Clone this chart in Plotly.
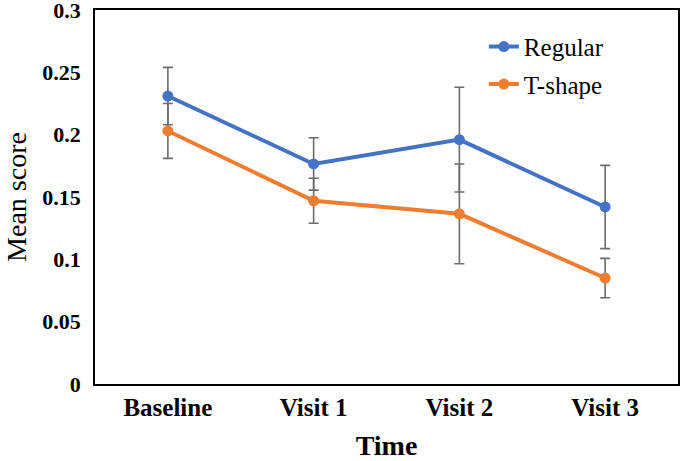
import plotly.graph_objects as go

categories = ["Baseline", "Visit 1", "Visit 2", "Visit 3"]
regular = [0.231, 0.1765, 0.196, 0.142]
regular_err = [0.023, 0.021, 0.042, 0.0334]
tshape = [0.203, 0.147, 0.1365, 0.085]
tshape_err = [0.022, 0.018, 0.040, 0.0158]
y_tickvals = [0, 0.05, 0.1, 0.15, 0.2, 0.25, 0.3]
y_ticktext = ["0", "0.05", "0.1", "0.15", "0.2", "0.25", "0.3"]

FONT = "Liberation Serif, Times New Roman, serif"
ERR_COLOR = "#6b6b6b"

fig = go.Figure()
fig.add_trace(go.Scatter(
    x=categories, y=regular, name="Regular", mode="lines+markers",
    legendgroup="a",
    line=dict(color="#4472C4", width=4),
    marker=dict(color="#4472C4", size=11),
    error_y=dict(type="data", array=regular_err, visible=True,
                 color=ERR_COLOR, thickness=1.6, width=5),
))
fig.add_trace(go.Scatter(
    x=categories, y=tshape, name="T-shape", mode="lines+markers",
    legendgroup="b",
    line=dict(color="#ED7D31", width=4),
    marker=dict(color="#ED7D31", size=11),
    error_y=dict(type="data", array=tshape_err, visible=True,
                 color=ERR_COLOR, thickness=1.6, width=5),
))

fig.update_layout(
    width=685, height=461,
    margin=dict(l=95, r=7, t=10, b=77, autoexpand=False),
    paper_bgcolor="white", plot_bgcolor="white",
    font=dict(family=FONT, color="black"),
    showlegend=True,
    legend=dict(x=0.667, y=0.963, xanchor="left", yanchor="top",
                font=dict(family=FONT, size=25, color="black"),
                bgcolor="rgba(0,0,0,0)", tracegroupgap=2),
    xaxis=dict(
        type="category", range=[-0.5, 3.5], automargin=False,
        showline=True, linecolor="black", linewidth=1.5, mirror=True,
        showgrid=False, ticks="", zeroline=False,
        tickfont=dict(family=FONT, size=25, color="black", weight="bold"),
        ticklabelstandoff=0, ticklabeloverflow="allow",
        title=dict(text="<b>Time</b>", font=dict(family=FONT, size=28, color="black"),
                   standoff=20),
    ),
    yaxis=dict(
        range=[0, 0.3], tickvals=y_tickvals, ticktext=y_ticktext, automargin=False,
        showline=True, linecolor="black", linewidth=1.5, mirror=True,
        showgrid=False, ticks="", zeroline=False,
        tickfont=dict(family=FONT, size=22, color="black", weight="bold"),
        ticklabelstandoff=8, ticklabeloverflow="allow",
        title=dict(text="Mean score", font=dict(family=FONT, size=28, color="black"),
                   standoff=8),
    ),
)

fig.write_html(
    "out.html",
    config={"displayModeBar": False},
    post_script="document.body.style.margin='0';document.body.style.padding='0';"
)
